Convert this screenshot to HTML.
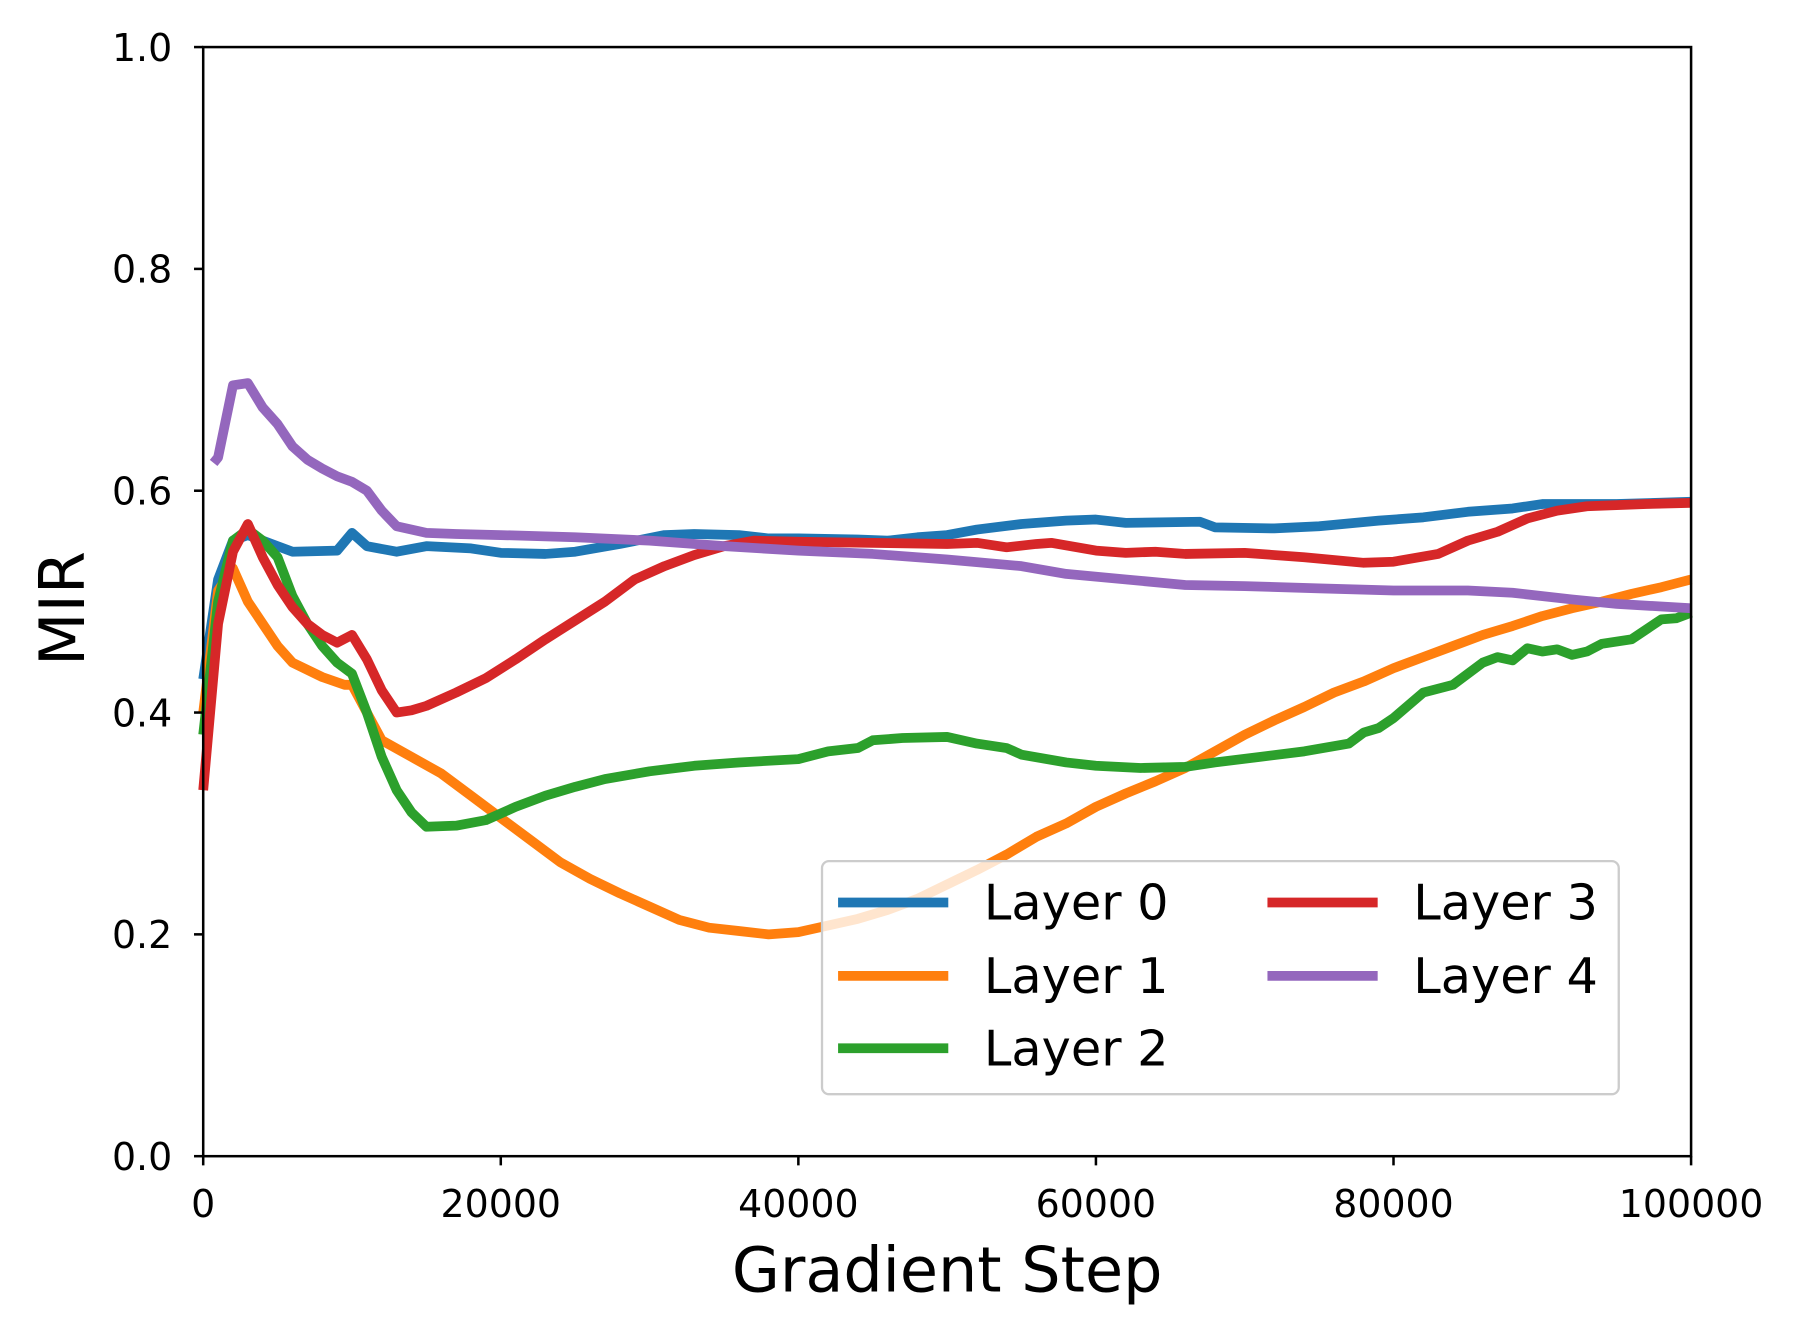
<!DOCTYPE html>
<html><head><meta charset="utf-8"><style>
html,body{margin:0;padding:0;background:#fff;}
svg{display:block;font-family:"DejaVu Sans","Liberation Sans",sans-serif;}
</style></head><body>
<svg id="chart" width="1799" height="1333" viewBox="0 0 1567 1161" preserveAspectRatio="none" xmlns="http://www.w3.org/2000/svg">
<rect x="0" y="0" width="1567" height="1161" fill="#fff"/>
<g id="series"></g>
<g id="axes"></g>
<g id="legend"></g>
</svg>
<script>
const xTicks = [0, 20000, 40000, 60000, 80000, 100000];
const yTicks = [0.0, 0.2, 0.4, 0.6, 0.8, 1.0];
const seriesNames = ["Layer 0", "Layer 1", "Layer 2", "Layer 3", "Layer 4"];
const seriesColors = ["#1f77b4", "#ff7f0e", "#2ca02c", "#d62728", "#9467bd"];
const layer0Steps = [0,1000,2000,3000,5000,6000,9000,10000,11000,13000,15000,18000,20000,23000,25000,28000,31000,33000,36000,38000,40000,44000,46000,48000,50000,52000,55000,58000,60000,62000,67000,68000,72000,75000,79000,82000,85000,88000,90000,95000,100000];
const layer0Values = [0.43,0.52,0.555,0.56,0.55,0.545,0.546,0.562,0.55,0.545,0.55,0.548,0.544,0.543,0.545,0.552,0.56,0.561,0.56,0.557,0.557,0.556,0.555,0.558,0.56,0.565,0.57,0.573,0.574,0.571,0.572,0.567,0.566,0.568,0.573,0.576,0.581,0.584,0.588,0.588,0.59];
const layer1Steps = [0,1000,2000,3000,5000,6000,8000,9500,10000,11000,12000,14000,16000,18000,20000,22000,24000,26000,28000,30000,32000,34000,36000,38000,40000,42000,44000,46000,48000,50000,52000,54000,56000,58000,60000,62000,64000,66000,68000,70000,72000,74000,76000,78000,80000,82000,84000,86000,88000,90000,92000,94000,96000,98000,100000];
const layer1Values = [0.4,0.51,0.53,0.5,0.46,0.445,0.432,0.425,0.425,0.4,0.375,0.36,0.345,0.325,0.305,0.285,0.265,0.25,0.237,0.225,0.213,0.206,0.203,0.2,0.202,0.208,0.214,0.222,0.232,0.245,0.258,0.272,0.288,0.3,0.315,0.327,0.338,0.35,0.365,0.38,0.393,0.405,0.418,0.428,0.44,0.45,0.46,0.47,0.478,0.487,0.494,0.5,0.507,0.513,0.52];
const layer2Steps = [0,1000,2000,3000,4000,5000,6000,7000,8000,9000,10000,11000,12000,13000,14000,15000,17000,19000,21000,23000,25000,27000,30000,33000,36000,40000,42000,44000,45000,47000,50000,52000,54000,55000,58000,60000,63000,66000,68000,71000,74000,77000,78000,79000,80000,82000,84000,86000,87000,88000,89000,90000,91000,92000,93000,94000,96000,98000,99000,100000];
const layer2Values = [0.38,0.5,0.555,0.565,0.555,0.54,0.505,0.48,0.46,0.445,0.435,0.4,0.36,0.33,0.31,0.297,0.298,0.303,0.315,0.325,0.333,0.34,0.347,0.352,0.355,0.358,0.365,0.368,0.375,0.377,0.378,0.372,0.368,0.362,0.355,0.352,0.35,0.351,0.355,0.36,0.365,0.372,0.382,0.386,0.395,0.418,0.425,0.445,0.45,0.447,0.458,0.455,0.457,0.452,0.455,0.462,0.466,0.484,0.485,0.49];
const layer3Steps = [0,1000,2000,3000,4000,5000,6000,7000,8000,9000,10000,11000,12000,13000,14000,15000,17000,19000,21000,23000,25000,27000,29000,31000,33000,35000,37000,40000,45000,50000,52000,54000,56000,57000,60000,62000,64000,66000,70000,74000,78000,80000,83000,85000,87000,89000,91000,93000,95000,97000,100000];
const layer3Values = [0.33,0.48,0.545,0.57,0.54,0.515,0.495,0.48,0.47,0.463,0.47,0.448,0.42,0.4,0.402,0.406,0.418,0.431,0.448,0.466,0.483,0.5,0.52,0.532,0.542,0.55,0.555,0.554,0.553,0.552,0.553,0.549,0.552,0.553,0.546,0.544,0.545,0.543,0.544,0.54,0.535,0.536,0.543,0.555,0.563,0.575,0.582,0.586,0.587,0.588,0.589];
const layer4Steps = [700,1000,2000,3000,4000,5000,6000,7000,8000,9000,10000,11000,12000,13000,15000,17000,20000,25000,30000,35000,40000,45000,50000,55000,58000,62000,66000,70000,75000,80000,85000,88000,92000,95000,100000];
const layer4Values = [0.625,0.63,0.695,0.697,0.675,0.66,0.64,0.628,0.62,0.613,0.608,0.6,0.582,0.568,0.562,0.561,0.56,0.558,0.555,0.55,0.546,0.543,0.538,0.532,0.525,0.52,0.515,0.514,0.512,0.51,0.51,0.508,0.502,0.498,0.494];
const allSteps = [layer0Steps, layer1Steps, layer2Steps, layer3Steps, layer4Steps];
const allValues = [layer0Values, layer1Values, layer2Values, layer3Values, layer4Values];

const NS = "http://www.w3.org/2000/svg";
const L = 177, R = 1473, T = 41, B = 1007;
function xs(v){ return L + (v - 0) / 100000 * (R - L); }
function ys(v){ return B - (v - 0) / 1.0 * (B - T); }
function mk(tag, attrs, parent){ const e = document.createElementNS(NS, tag); for (const k in attrs) e.setAttribute(k, attrs[k]); parent.appendChild(e); return e; }

const sg = document.getElementById("series");
allSteps.forEach((steps, i) => {
  const d = steps.map((s, j) => (j ? "L" : "M") + xs(s).toFixed(2) + " " + ys(allValues[i][j]).toFixed(2)).join(" ");
  const p = mk("path", {d: d, fill: "none", stroke: seriesColors[i], "stroke-width": 8.5, "stroke-linejoin": "round", "stroke-linecap": "butt"}, sg);
  
  
});

const ag = document.getElementById("axes");
const frame = mk("rect", {x: L, y: T, width: R - L, height: B - T, fill: "none", stroke: "#000", "stroke-width": 2.2}, ag);


xTicks.forEach(t => {
  const x = xs(t);
  const tk = mk("line", {x1: x, x2: x, y1: B, y2: B + 8, stroke: "#000", "stroke-width": 2.2}, ag);
  
  
  const tx = mk("text", {x: x, y: B + 53, "text-anchor": "middle", "font-size": 33, fill: "#000"}, ag);
  tx.textContent = String(t);
  
  
});
yTicks.forEach(t => {
  const y = ys(t);
  const tk = mk("line", {x1: L - 8, x2: L, y1: y, y2: y, stroke: "#000", "stroke-width": 2.2}, ag);
  
  
  const tx = mk("text", {x: 150, y: y + 12, "text-anchor": "end", "font-size": 33, fill: "#000"}, ag);
  tx.textContent = t.toFixed(1);
  
  
});
const xt = mk("text", {x: (L + R) / 2, y: 1125, "text-anchor": "middle", "font-size": 54, fill: "#000"}, ag);
xt.textContent = "Gradient Step";


const yt = mk("text", {x: 0, y: 0, "text-anchor": "middle", "font-size": 54, fill: "#000", transform: "translate(73 " + 530 + ") rotate(-90)"}, ag);
yt.textContent = "MIR";



const lg = document.getElementById("legend");
const box = mk("rect", {x: 716, y: 750, width: 694, height: 203, rx: 6, fill: "#fff", "fill-opacity": 0.8, stroke: "#ccc", "stroke-width": 2}, lg);


const legX = [730, 730, 730, 1104, 1104];
const legY = [786, 850, 913, 786, 850];
seriesNames.forEach((n, i) => {
  const ln = mk("line", {x1: legX[i], x2: legX[i] + 96, y1: legY[i], y2: legY[i], stroke: seriesColors[i], "stroke-width": 8.5}, lg);
  
  
  const tx = mk("text", {x: legX[i] + 127, y: legY[i] + 15, "font-size": 43, fill: "#000"}, lg);
  tx.textContent = n;
  
  
});
</script>
</body></html>
